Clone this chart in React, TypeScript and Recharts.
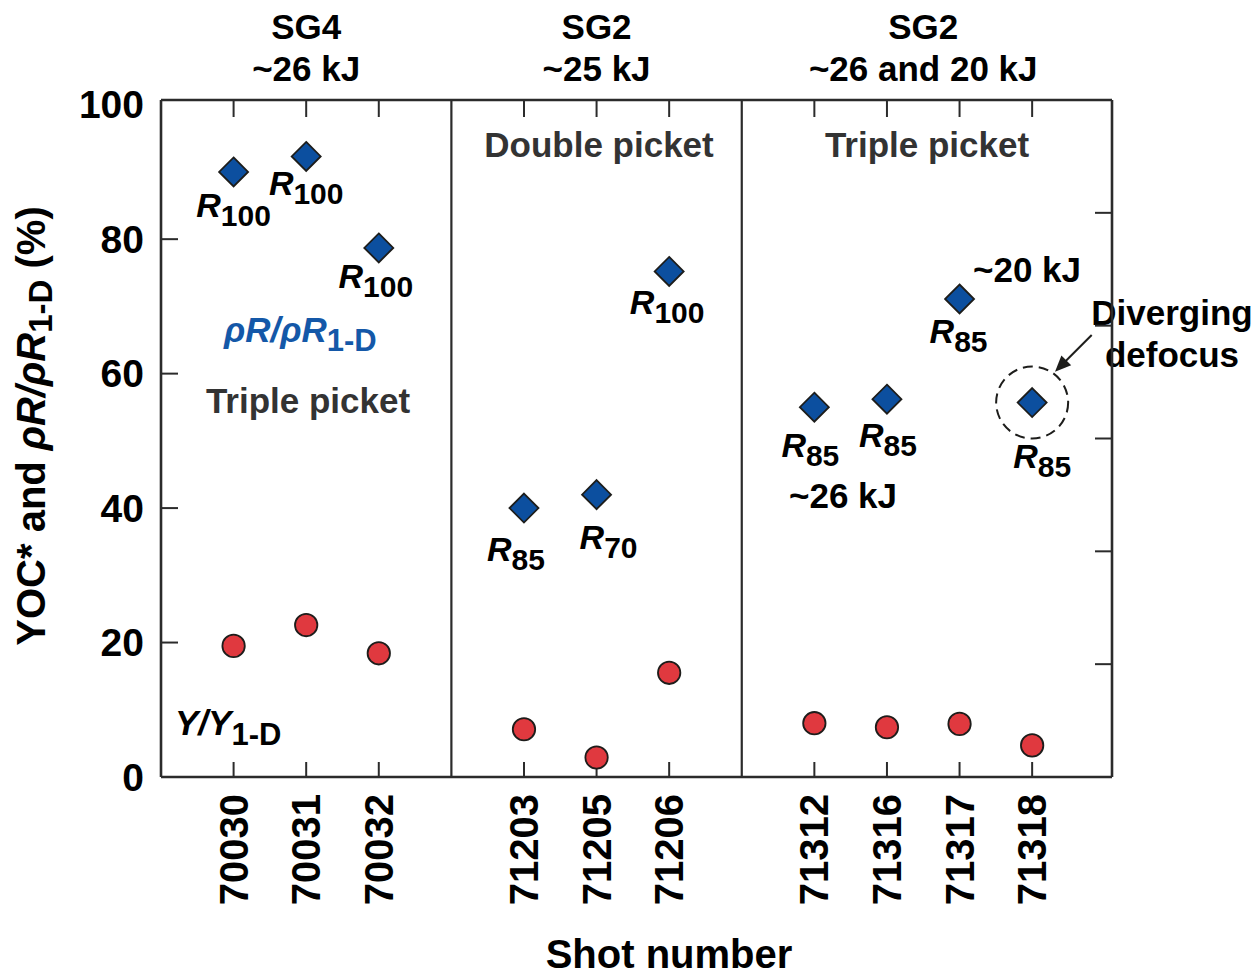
import React from "react";
import { ScatterChart, Scatter, XAxis, YAxis, ReferenceLine, ReferenceDot } from "recharts";

// shot campaigns
const groupNames = ["SG4", "SG2", "SG2"];
const groupEnergy = ["~26 kJ", "~25 kJ", "~26 and 20 kJ"];
const shots = ["70030", "70031", "70032", "71203", "71205", "71206", "71312", "71316", "71317", "71318"];
const shotGroup = [0, 0, 0, 1, 1, 1, 2, 2, 2, 2];

// values in %
const rhoR = [90.0, 92.3, 78.7, 40.0, 42.0, 75.2, 55.0, 56.2, 71.1, 55.7];
const yieldRatio = [19.5, 22.6, 18.4, 7.1, 2.9, 15.5, 8.0, 7.4, 7.9, 4.7];
const rLabel = ["100", "100", "100", "85", "70", "100", "85", "85", "85", "85"];
const yTicks = [0, 20, 40, 60, 80, 100];

// label placement under each diamond (dx, dy in px)
const labelShift = [[0, 45], [0, 39], [-3, 40], [-8, 53], [12, 54], [-2, 43], [-4, 50], [1, 48], [-1, 44], [10, 65]];

const FONT = '"Liberation Sans", Arial, Helvetica, sans-serif';
const INK = "#1d1d1b";
const FRAME = "#2b2b2b";
const GREY = "#333333";
const BLUE = "#0c4f9f";
const LBLUE = "#1458a8";
const RED = "#e0393f";

// chart geometry
const W = 1260, H = 979;
const LEFT_W = 161, RIGHT_W = 148, TOP = 100, BOTTOM_H = 202;
const PLOT_R = W - RIGHT_W, PLOT_B = H - BOTTOM_H;
const X_MAX = 13.1, Y_MAX = 100.7;
const pxX = (PLOT_R - LEFT_W) / X_MAX;
const pxY = (PLOT_B - TOP) / Y_MAX;

// slot positions: one empty slot between campaigns
const pos = shots.map((_, i) => i + shotGroup[i] + 1);
const dividers = [0, 1].map((g) => Math.max(...pos.filter((_, i) => shotGroup[i] === g)) + 1);
const groupCenter = [0, 1, 2].map((g) => {
  const p = pos.filter((_, i) => shotGroup[i] === g);
  return (p[0] + p[p.length - 1]) / 2;
});

const rhoData = shots.map((s, i) => ({ x: pos[i], y: rhoR[i], sub: rLabel[i], idx: i }));
const yieldData = shots.map((s, i) => ({ x: pos[i], y: yieldRatio[i] }));

const Diamond = (props: any) => {
  const { cx, cy, payload } = props;
  const h = 14.5;
  const [dx, dy] = labelShift[payload.idx];
  return (
    <g>
      <polygon
        points={`${cx},${cy - h} ${cx + h},${cy} ${cx},${cy + h} ${cx - h},${cy}`}
        fill={BLUE}
        stroke={INK}
        strokeWidth={1.8}
      />
      <text x={cx + dx} y={cy + dy} textAnchor="middle" fontFamily={FONT} fontWeight={700} fill="#000">
        <tspan fontStyle="italic" fontSize={34}>R</tspan>
        <tspan fontSize={30} dy={9}>{payload.sub}</tspan>
      </text>
    </g>
  );
};

const Dot = (props: any) => {
  const { cx, cy } = props;
  return <circle cx={cx} cy={cy} r={11.2} fill={RED} stroke={INK} strokeWidth={1.8} />;
};

const ShotTick = (props: any) => {
  const { x, payload } = props;
  const i = pos.indexOf(payload.value);
  const ty = PLOT_B + 17;
  return (
    <text
      x={x}
      y={ty}
      transform={`rotate(-90, ${x}, ${ty})`}
      textAnchor="end"
      dominantBaseline="central"
      fontFamily={FONT}
      fontWeight={700}
      fontSize={40}
      fill="#000"
    >
      {shots[i]}
    </text>
  );
};

const LeftTick = (props: any) => {
  const { y, payload } = props;
  return (
    <text
      x={LEFT_W - 17}
      y={y}
      textAnchor="end"
      dominantBaseline="central"
      fontFamily={FONT}
      fontWeight={700}
      fontSize={39}
      fill="#000"
    >
      {payload.value}
    </text>
  );
};

const RightTick = (props: any) => {
  const { y } = props;
  return <line x1={PLOT_R} x2={PLOT_R - 17} y1={y} y2={y} stroke={FRAME} strokeWidth={2} />;
};

const GroupTitle = (props: any) => {
  const { cx, g } = props;
  return (
    <g fontFamily={FONT} fontWeight={700} fontSize={35} fill="#000" textAnchor="middle">
      <text x={cx} y={39}>{groupNames[g]}</text>
      <text x={cx} y={81}>{groupEnergy[g]}</text>
    </g>
  );
};

const txt = { fontFamily: FONT, fontWeight: 700 } as const;
const ax = { xAxisId: "b", yAxisId: "l" } as const;

export default function App() {
  return (
    <div style={{ position: "absolute", left: 0, top: 0, background: "#fff" }}>
      <ScatterChart width={W} height={H} margin={{ top: TOP - 1, right: 0, bottom: 0, left: 0 }}>
        <XAxis
          xAxisId="b"
          type="number"
          dataKey="x"
          domain={[0, X_MAX]}
          ticks={pos}
          interval={0}
          allowDataOverflow
          orientation="bottom"
          height={BOTTOM_H}
          axisLine={{ stroke: FRAME, strokeWidth: 2.6 }}
          tickLine={false}
          tick={<ShotTick />}
        />
        <XAxis
          xAxisId="t"
          type="number"
          domain={[0, X_MAX]}
          ticks={pos}
          allowDataOverflow
          orientation="top"
          height={1}
          axisLine={{ stroke: FRAME, strokeWidth: 2.6 }}
          tickLine={false}
          tick={false}
        />
        <YAxis
          yAxisId="l"
          type="number"
          dataKey="y"
          domain={[0, Y_MAX]}
          ticks={yTicks}
          interval={0}
          allowDataOverflow
          width={LEFT_W}
          axisLine={{ stroke: FRAME, strokeWidth: 2.6 }}
          tickLine={false}
          tick={<LeftTick />}
        />
        <YAxis
          yAxisId="r"
          type="number"
          orientation="right"
          domain={[0, 6]}
          ticks={[1, 2, 3, 4, 5]}
          interval={0}
          allowDataOverflow
          width={RIGHT_W}
          axisLine={{ stroke: FRAME, strokeWidth: 2.6 }}
          tickLine={false}
          tick={<RightTick />}
        />

        {/* inward tick marks: bottom, top, left */}
        {pos.map((p) => (
          <ReferenceLine
            key={"bt" + p}
            {...ax}
            segment={[{ x: p, y: 0 }, { x: p, y: 15 / pxY }]}
            stroke={FRAME}
            strokeWidth={2}
            ifOverflow="visible"
          />
        ))}
        {pos.map((p) => (
          <ReferenceLine
            key={"tt" + p}
            {...ax}
            segment={[{ x: p, y: Y_MAX }, { x: p, y: Y_MAX - 17 / pxY }]}
            stroke={FRAME}
            strokeWidth={2}
            ifOverflow="visible"
          />
        ))}
        {yTicks.slice(1, -1).map((t) => (
          <ReferenceLine
            key={"lt" + t}
            {...ax}
            segment={[{ x: 0, y: t }, { x: 17 / pxX, y: t }]}
            stroke={FRAME}
            strokeWidth={2}
            ifOverflow="visible"
          />
        ))}

        {dividers.map((d) => (
          <ReferenceLine key={d} {...ax} x={d} stroke={FRAME} strokeWidth={2.2} />
        ))}

        {groupCenter.map((c, g) => (
          <ReferenceDot
            key={"g" + g}
            {...ax}
            x={c}
            y={100}
            ifOverflow="visible"
            shape={(p: any) => <GroupTitle cx={p.cx} g={g} />}
          />
        ))}

        <ReferenceDot
          {...ax}
          x={pos[9]}
          y={rhoR[9]}
          r={36}
          fill="none"
          stroke={INK}
          strokeWidth={2}
          strokeDasharray="10 6"
          ifOverflow="visible"
        />

        <Scatter {...ax} data={yieldData} shape={<Dot />} isAnimationActive={false} />
        <Scatter {...ax} data={rhoData} shape={<Diamond />} isAnimationActive={false} />

        <g>
          <text
            transform="translate(31, 426) rotate(-90)"
            textAnchor="middle"
            dominantBaseline="central"
            {...txt}
            fontSize={40}
            fill="#000"
          >
            YOC* and <tspan fontStyle="italic">ρR/ρR</tspan>
            <tspan fontSize={33} dy={9}>1-D</tspan>
            <tspan dy={-9}> (%)</tspan>
          </text>
          <text x={669} y={968} textAnchor="middle" {...txt} fontSize={40} fill="#000">
            Shot number
          </text>

          <text x={308} y={413} textAnchor="middle" {...txt} fontSize={35} fill={GREY}>Triple picket</text>
          <text x={599} y={157} textAnchor="middle" {...txt} fontSize={35} fill={GREY}>Double picket</text>
          <text x={927} y={157} textAnchor="middle" {...txt} fontSize={35} fill={GREY}>Triple picket</text>

          <text x={224} y={342} {...txt} fontSize={35} fill={LBLUE}>
            <tspan fontStyle="italic">ρR/ρR</tspan>
            <tspan fontSize={31} dy={9}>1-D</tspan>
          </text>
          <text x={175} y={735} {...txt} fontSize={35} fill="#000">
            <tspan fontStyle="italic">Y/Y</tspan>
            <tspan fontSize={31} dy={10}>1-D</tspan>
          </text>

          <text x={1027} y={282} textAnchor="middle" {...txt} fontSize={35} fill="#000">~20 kJ</text>
          <text x={843} y={508} textAnchor="middle" {...txt} fontSize={35} fill="#000">~26 kJ</text>

          <rect x={1100} y={284} width={18} height={96} fill="#fff" />
          <text x={1172} y={325} textAnchor="middle" {...txt} fontSize={35} fill="#000">Diverging</text>
          <text x={1172} y={367} textAnchor="middle" {...txt} fontSize={35} fill="#000">defocus</text>
          <line x1={1091.7} y1={335} x2={1064} y2={362.7} stroke={INK} strokeWidth={2} />
          <polygon points="1055,371.7 1071.2,365.3 1061.4,355.4" fill={INK} />
        </g>
      </ScatterChart>
    </div>
  );
}
